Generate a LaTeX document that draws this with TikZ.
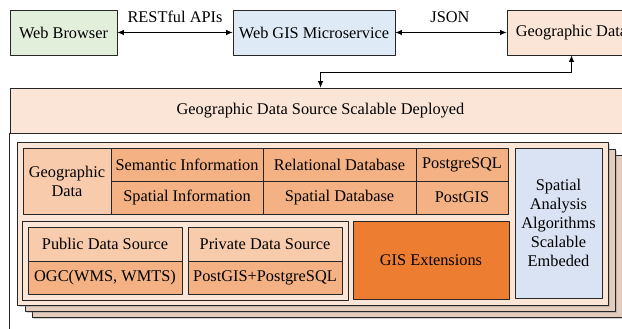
\documentclass[tikz,border=0pt]{standalone}
\usepackage{fontspec}
\setmainfont{Liberation Serif}
\usetikzlibrary{arrows.meta,shadows}
\definecolor{browsergreen}{HTML}{E2EFDA}
\definecolor{serviceblue}{HTML}{DEEBF7}
\definecolor{geopeach}{HTML}{FBE5D6}
\definecolor{cellpeach}{HTML}{F8CBAD}
\definecolor{cellorange}{HTML}{F4B183}
\definecolor{extorange}{HTML}{ED7D31}
\definecolor{analysisblue}{HTML}{DAE3F3}
\definecolor{layertan}{HTML}{E5CDBD}
\definecolor{edge}{HTML}{262626}
\begin{document}
\begin{tikzpicture}[>={Latex[length=6.5bp,width=5.5bp]},line join=bevel,
  every node/.style={font=\fontsize{16.4}{19}\selectfont},
  box/.style={draw=edge,line width=0.8bp,rectangle,inner sep=0pt,align=center},
  cell/.style={box,minimum height=33bp},
  layer/.style={draw=edge,line width=0.8bp,fill=layertan,
    drop shadow={opacity=0.35,shadow xshift=2bp,shadow yshift=-2.5bp}},
  conn/.style={black,line width=0.8bp,<->}]
\useasboundingbox (0bp,0bp) rectangle (622bp,329bp);
%%
\node (web_browser) at (63.5bp,296.5bp) [box,fill=browsergreen,minimum width=107bp,minimum height=45bp] {Web Browser};
  \node (web_gis) at (314bp,296.5bp) [box,fill=serviceblue,minimum width=162bp,minimum height=45bp] {Web GIS Microservice};
  \node (geo_data) at (571.5bp,296.5bp) [box,fill=geopeach,minimum width=129bp,minimum height=45bp] {Geographic Data};
  \node (rest_label) at (175bp,312bp) {RESTful APIs};
  \node (json_label) at (450bp,312bp) {JSON};
%% deployment frame
\node (deployed) at (320.5bp,218.5bp) [box,fill=geopeach,minimum width=621bp,minimum height=45bp] {Geographic Data Source Scalable Deployed};
  \draw [edge,line width=0.8bp,fill=white] (deployed.south west) rectangle (631bp,-10bp);
%% stacked layers
\node (layer_3) at (327bp,93bp) [layer,minimum width=590bp,minimum height=162bp] {};
  \node (layer_2) at (320bp,99bp) [layer,minimum width=590bp,minimum height=162bp] {};
  \node (layer_1) at (312.5bp,105.5bp) [layer,fill=geopeach,minimum width=591bp,minimum height=163bp] {};
%% data table
\node (geo_cell) at (67bp,148bp) [box,fill=cellpeach,minimum width=88bp,minimum height=66bp] {Geographic\\Data};
  \node (semantic) at (187bp,164.5bp) [cell,fill=cellorange,minimum width=152bp] {Semantic Information};
  \node (spatial_info) at (187bp,131.5bp) [cell,fill=cellorange,minimum width=152bp] {Spatial Information};
  \node (relational) at (339.5bp,164.5bp) [cell,fill=cellorange,minimum width=153bp] {Relational Database};
  \node (spatial_db) at (339.5bp,131.5bp) [cell,fill=cellorange,minimum width=153bp] {Spatial Database};
  \node (postgresql) at (462bp,164.5bp) [cell,fill=cellorange,minimum width=92bp] {PostgreSQL};
  \node (postgis) at (462bp,131.5bp) [cell,fill=cellorange,minimum width=92bp] {PostGIS};
%% data sources
\node (sources) at (185bp,68.5bp) [box,fill=geopeach,minimum width=326bp,minimum height=79bp] {};
  \node (public) at (105bp,85bp) [cell,fill=cellpeach,minimum width=154bp,minimum height=34bp] {Public Data Source};
  \node (ogc) at (105bp,51.5bp) [cell,fill=cellorange,minimum width=154bp] {OGC(WMS, WMTS)};
  \node (private) at (265bp,85bp) [cell,fill=cellpeach,minimum width=154bp,minimum height=34bp] {Private Data Source};
  \node (pg_stack) at (265bp,51.5bp) [cell,fill=cellorange,minimum width=154bp] {PostGIS+PostgreSQL};
  \node (gis_ext) at (431bp,69bp) [box,fill=extorange,minimum width=156bp,minimum height=78bp] {GIS Extensions};
  \node (analysis) at (558.5bp,106bp) [box,fill=analysisblue,minimum width=87bp,minimum height=150bp] {Spatial\\Analysis\\Algorithms\\Scalable\\Embeded};
%
  \draw [conn] (web_browser) -- (web_gis);
  \draw [conn] (web_gis) -- (geo_data);
  \draw [conn] (geo_data.south) -- ++(0bp,-17bp) -| (deployed.north);
%
\end{tikzpicture}
\end{document}
